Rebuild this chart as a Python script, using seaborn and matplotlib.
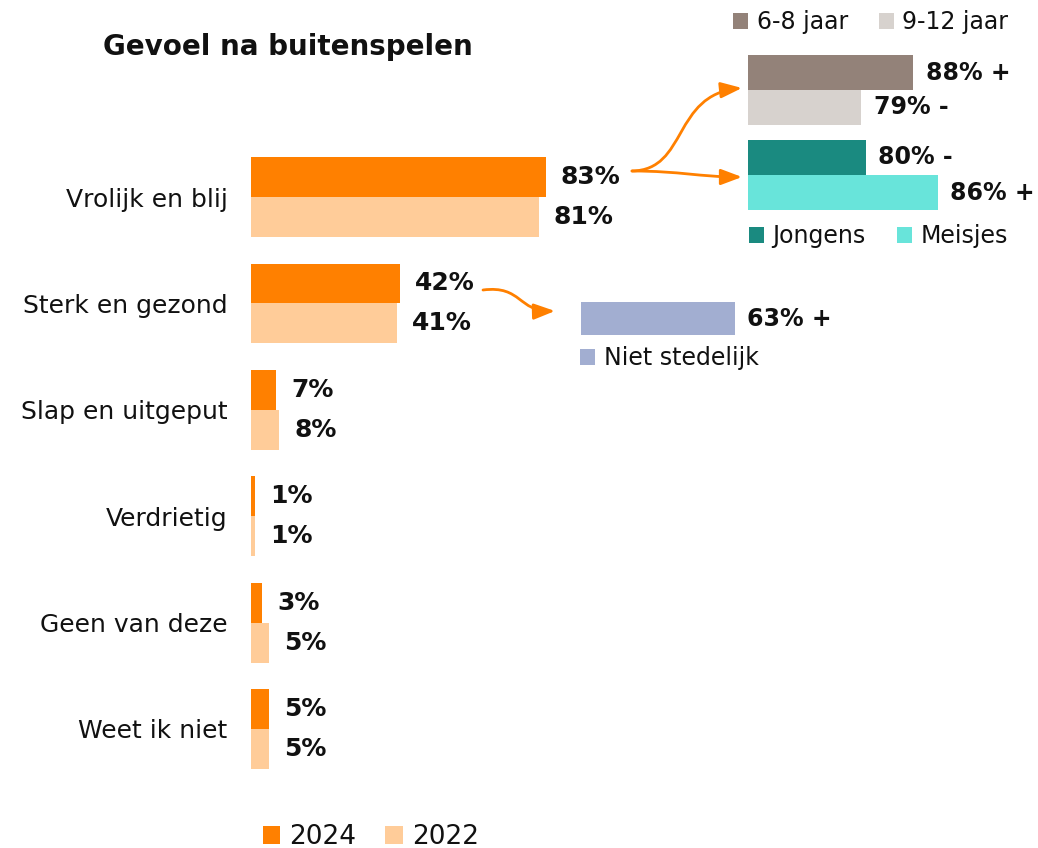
"""
Gevoel na buitenspelen - grouped bar chart with insets
"""

import matplotlib

matplotlib.use("Agg")
import matplotlib.pyplot as plt
from matplotlib.patches import FancyArrowPatch, Patch
from matplotlib.path import Path
import pandas as pd
import seaborn as sns

# data
categories = ["Vrolijk en blij", "Sterk en gezond", "Slap en uitgeput",
              "Verdrietig", "Geen van deze", "Weet ik niet"]
years = ["2024", "2022"]
values_2024 = [83, 42, 7, 1, 3, 5]
values_2022 = [81, 41, 8, 1, 5, 5]

age_groups = ["6-8 jaar", "9-12 jaar"]
age_values = [88, 79]
age_sig = ["+", "-"]

gender_groups = ["Jongens", "Meisjes"]
gender_values = [80, 86]
gender_sig = ["-", "+"]

urban_groups = ["Niet stedelijk"]
urban_values = [63]
urban_sig = ["+"]

# colours
year_colors = ["#FF8000", "#FFCC99"]
age_colors = ["#938279", "#D7D2CE"]
gender_colors = ["#1A8A80", "#68E4DA"]
urban_colors = ["#A2AED1"]

W, H = 1038, 848
TEXT = "#111111"

sns.set_theme(style="white")
plt.rcParams["font.family"] = ["DejaVu Sans"]


def fig_rect(x0, y0, x1, y1):
    """pixel box (top-left origin) -> figure fraction rect"""
    return [x0 / W, 1 - y1 / H, (x1 - x0) / W, (y1 - y0) / H]


def px(x, y):
    return (x / W, 1 - y / H)


def clean(ax):
    for s in ax.spines.values():
        s.set_visible(False)
    ax.set_xlabel("")
    ax.set_ylabel("")
    ax.set_xticks([])


fig = plt.figure(figsize=(W / 100, H / 100), dpi=100)

# main chart
df = pd.DataFrame({
    "categorie": categories * 2,
    "jaar": [years[0]] * len(categories) + [years[1]] * len(categories),
    "waarde": values_2024 + values_2022,
})
ax = fig.add_axes(fig_rect(251, 143.8, 606, 782.2))
sns.barplot(data=df, y="categorie", x="waarde", hue="jaar", orient="h",
            palette=year_colors, width=0.75, saturation=1, legend=False,
            linewidth=0, ax=ax)
ax.set_xlim(0, 100)
ax.set_ylim(len(categories) - 0.5, -0.5)
clean(ax)
ax.tick_params(axis="y", length=0, pad=17, labelsize=18, labelcolor=TEXT)
for cont, vals in zip(ax.containers, [values_2024, values_2022]):
    ax.bar_label(cont, labels=[f"{v}%" for v in vals], padding=11,
                 fontsize=18, fontweight="bold", color=TEXT)


def inset(box, groups, vals, sigs, colors, xlim):
    a = fig.add_axes(fig_rect(*box))
    sns.barplot(y=groups, x=vals, hue=groups, palette=colors, orient="h",
                width=1.0, saturation=1, legend=False, linewidth=0, ax=a)
    a.set_xlim(*xlim)
    a.set_ylim(len(groups) - 0.5, -0.5)
    clean(a)
    a.set_yticks([])
    for cont, v, s in zip(a.containers, vals, sigs):
        a.bar_label(cont, labels=[f"{v}% {s}"], padding=9,
                    fontsize=17, fontweight="bold", color=TEXT,
                    clip_on=False)
    return a


# age inset: bars 748 -> 913 (88%), 748 -> 861 (79%)
inset((748, 55, 1000, 125), age_groups, age_values, age_sig, age_colors,
      (59.44, 59.44 + 252 / 5.778))
# gender inset: 748 -> 866 (80%), 748 -> 938 (86%)
inset((748, 140, 1000, 210), gender_groups, gender_values, gender_sig,
      gender_colors, (70.17, 70.17 + 252 / 12.0))
# urban inset: 581 -> 735 (63%)
inset((581, 302, 825, 335), urban_groups, urban_values, urban_sig,
      urban_colors, (0, 100))


def legend(labels, colors, x, y, size=17, spacing=1.3):
    handles = [Patch(facecolor=c, edgecolor="none") for c in colors]
    fig.legend(handles, labels, loc="center left", bbox_to_anchor=px(x, y),
               ncol=len(labels), frameon=False, fontsize=size,
               handlelength=0.65, handleheight=0.65, handletextpad=0.35,
               columnspacing=spacing, borderpad=0, borderaxespad=0,
               labelcolor=TEXT)


legend(age_groups, age_colors, 733, 22)
legend(gender_groups, gender_colors, 749, 236)
legend(urban_groups, urban_colors, 580, 358)
legend(years, year_colors, 263, 837, size=19, spacing=1.1)

# title
fig.text(103 / W, 1 - 47 / H, "Gevoel na buitenspelen", fontsize=20,
         fontweight="bold", color=TEXT, ha="left", va="center")

# arrows
orange = year_colors[0]
arrow_paths = [
    [(632, 171), (688, 170), (672, 95), (742, 88)],
    [(632, 171), (680, 171), (700, 177), (742, 177)],
    [(483, 290), (522, 285), (518, 312), (555, 311)],
]
for pts in arrow_paths:
    path = Path([px(*p) for p in pts],
                [Path.MOVETO, Path.CURVE4, Path.CURVE4, Path.CURVE4])
    arr = FancyArrowPatch(path=path, transform=fig.transFigure,
                          arrowstyle="-|>,head_length=0.8,head_width=0.3",
                          mutation_scale=16, color=orange, linewidth=2)
    fig.add_artist(arr)

fig.savefig("out.png", dpi=100)
plt.close(fig)
